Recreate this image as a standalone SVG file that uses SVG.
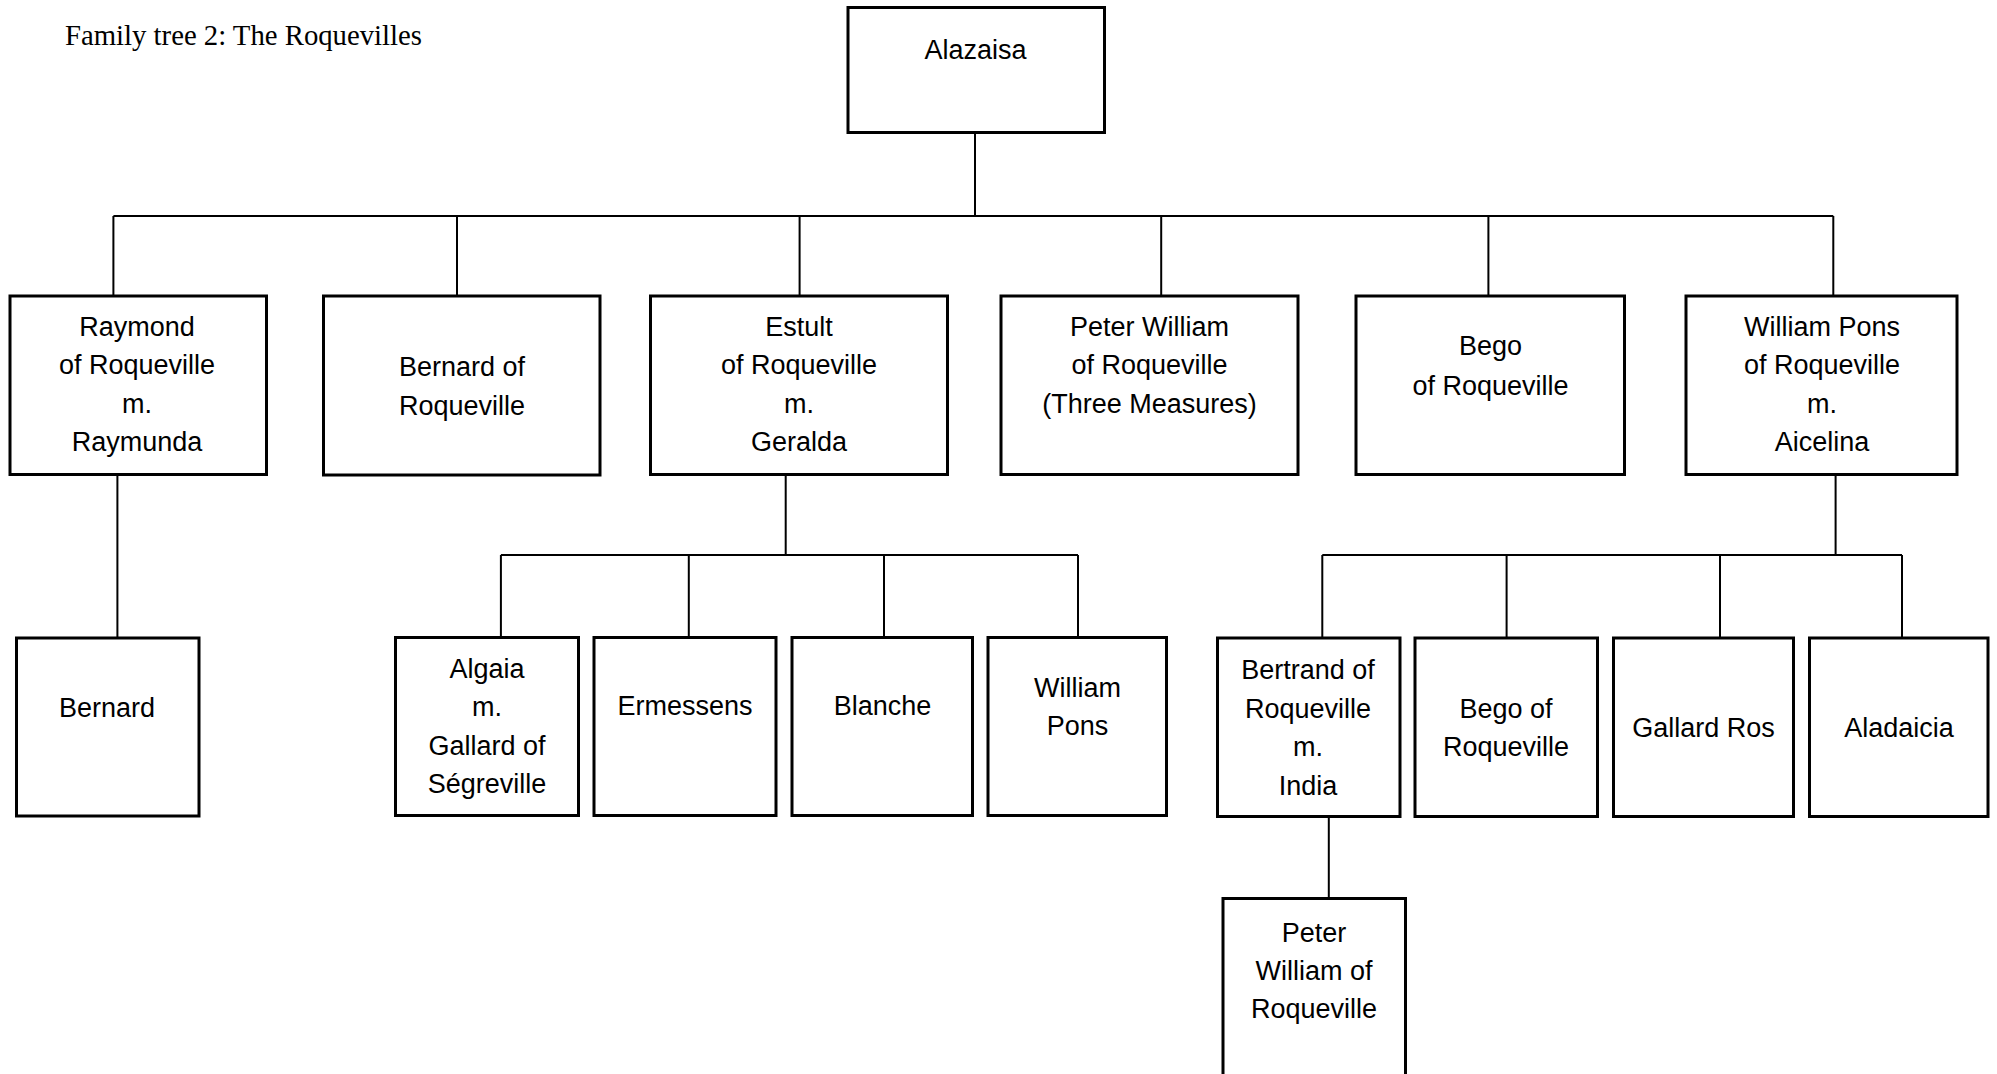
<svg xmlns="http://www.w3.org/2000/svg" width="1997" height="1074" viewBox="0 0 1997 1074">
<style>
.box{fill:#fff;stroke:#000;stroke-width:3}
.ln{fill:none;stroke:#000;stroke-width:2}
.t{font-family:"Liberation Sans",Arial,sans-serif;font-size:27px;text-anchor:middle;fill:#000}
.title{font-family:"Liberation Serif","Times New Roman",serif;font-size:29px;fill:#000}
</style>
<rect width="1997" height="1074" fill="#fff"/>
<text class="title" x="65" y="45" textLength="357" lengthAdjust="spacingAndGlyphs">Family tree 2: The Roquevilles</text>
<g id="connectors">
<path class="ln" d="M975 134V216M113.4 216H1833.3M113.4 216V296M457 216V296M799.6 216V296M1161.2 216V296M1488.4 216V296M1833.3 216V296"/>
<path class="ln" d="M117.4 474V638"/>
<path class="ln" d="M785.7 474V555M500.9 555H1078M500.9 555V637M688.8 555V637M884 555V637M1078 555V637"/>
<path class="ln" d="M1835.6 474V555M1322.3 555H1902M1322.3 555V638M1506.6 555V638M1720 555V638M1902 555V638"/>
<path class="ln" d="M1328.8 817V898"/>
</g>
<g id="alazaisa"><rect class="box" x="848" y="7.5" width="256.5" height="125"/><text class="t" x="975.5" y="59">Alazaisa</text></g>
<g id="raymond"><rect class="box" x="10" y="296" width="256.5" height="178.5"/><text class="t" y="335.5"><tspan x="137" >Raymond</tspan><tspan x="137" dy="38.5">of Roqueville</tspan><tspan x="137" dy="38.5">m.</tspan><tspan x="137" dy="38.5">Raymunda</tspan></text></g>
<g id="bernard-of-roqueville"><rect class="box" x="323.5" y="296" width="276.5" height="179"/><text class="t" y="376"><tspan x="462">Bernard of</tspan><tspan x="462" dy="38.5">Roqueville</tspan></text></g>
<g id="estult"><rect class="box" x="650.5" y="296" width="297" height="178.5"/><text class="t" y="335.5"><tspan x="799">Estult</tspan><tspan x="799" dy="38.5">of Roqueville</tspan><tspan x="799" dy="38.5">m.</tspan><tspan x="799" dy="38.5">Geralda</tspan></text></g>
<g id="peter-william"><rect class="box" x="1001" y="296" width="297" height="178.5"/><text class="t" y="335.5"><tspan x="1149.5">Peter William</tspan><tspan x="1149.5" dy="38.5">of Roqueville</tspan><tspan x="1149.5" dy="38.5">(Three Measures)</tspan></text></g>
<g id="bego"><rect class="box" x="1356" y="296" width="268.5" height="178.5"/><text class="t" y="355"><tspan x="1490.5">Bego</tspan><tspan x="1490.5" dy="39.5">of Roqueville</tspan></text></g>
<g id="william-pons"><rect class="box" x="1686" y="296" width="271" height="178.5"/><text class="t" y="335.5"><tspan x="1822">William Pons</tspan><tspan x="1822" dy="38.5">of Roqueville</tspan><tspan x="1822" dy="38.5">m.</tspan><tspan x="1822" dy="38.5">Aicelina</tspan></text></g>
<g id="bernard"><rect class="box" x="16.5" y="638" width="182.5" height="178"/><text class="t" x="107" y="716.5">Bernard</text></g>
<g id="algaia"><rect class="box" x="395.5" y="637.5" width="183" height="178"/><text class="t" y="677.5"><tspan x="487">Algaia</tspan><tspan x="487" dy="38.5">m.</tspan><tspan x="487" dy="38.5">Gallard of</tspan><tspan x="487" dy="38.5">Ségreville</tspan></text></g>
<g id="ermessens"><rect class="box" x="594" y="637.5" width="182" height="178"/><text class="t" x="685" y="715">Ermessens</text></g>
<g id="blanche"><rect class="box" x="792" y="637.5" width="180.5" height="178"/><text class="t" x="882.5" y="715">Blanche</text></g>
<g id="william-pons-2"><rect class="box" x="988" y="637.5" width="178.5" height="178"/><text class="t" y="696.5"><tspan x="1077.5">William</tspan><tspan x="1077.5" dy="38.5">Pons</tspan></text></g>
<g id="bertrand"><rect class="box" x="1217.5" y="638" width="182.5" height="178.5"/><text class="t" y="679"><tspan x="1308">Bertrand of</tspan><tspan x="1308" dy="38.5">Roqueville</tspan><tspan x="1308" dy="38.5">m.</tspan><tspan x="1308" dy="38.5">India</tspan></text></g>
<g id="bego-of-roqueville"><rect class="box" x="1415" y="638" width="182.5" height="178.5"/><text class="t" y="717.5"><tspan x="1506">Bego of</tspan><tspan x="1506" dy="38.5">Roqueville</tspan></text></g>
<g id="gallard-ros"><rect class="box" x="1613.5" y="638" width="180" height="178.5"/><text class="t" x="1703.5" y="736.5">Gallard Ros</text></g>
<g id="aladaicia"><rect class="box" x="1809.5" y="638" width="178.5" height="178.5"/><text class="t" x="1899" y="736.5">Aladaicia</text></g>
<g id="peter-william-of-roqueville"><rect class="box" x="1223" y="898.5" width="182.5" height="190"/><text class="t" y="941.5"><tspan x="1314">Peter</tspan><tspan x="1314" dy="38">William of</tspan><tspan x="1314" dy="38">Roqueville</tspan></text></g>
</svg>
